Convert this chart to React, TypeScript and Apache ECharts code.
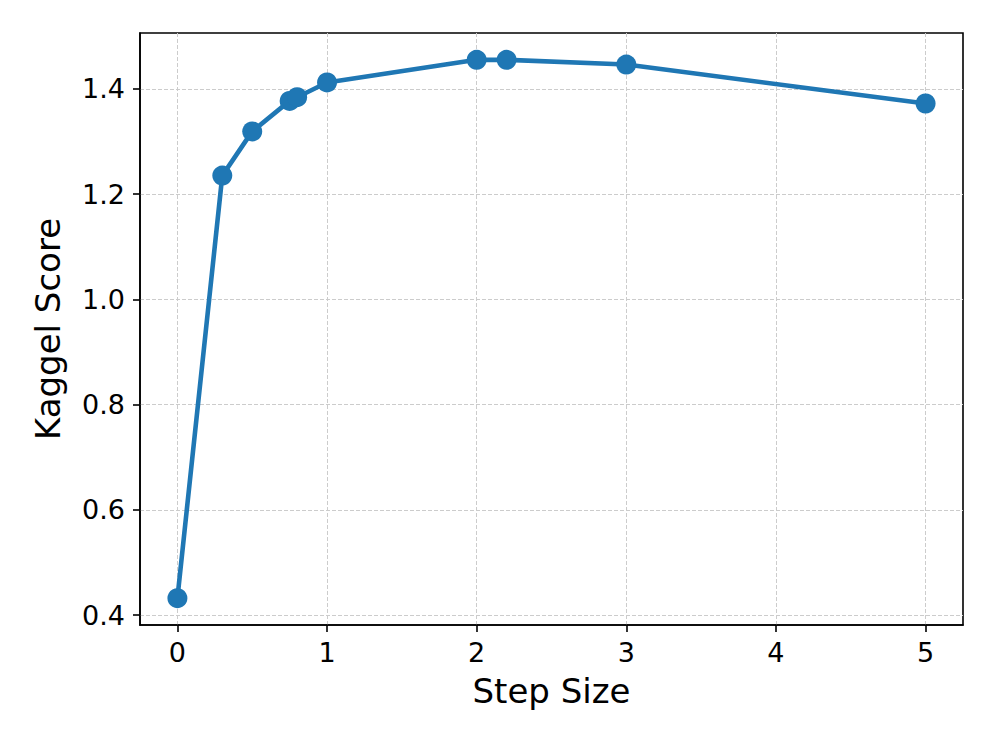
import React, { useEffect, useRef } from "react";
import * as echarts from "echarts";

const stepSizes = [0, 0.3, 0.5, 0.75, 0.8, 1, 2, 2.2, 3, 5];
const kaggleScores = [0.432, 1.235, 1.319, 1.377, 1.384, 1.412, 1.455, 1.455, 1.446, 1.372];
const xTicks = [0, 1, 2, 3, 4, 5];
const yTicks = [0.4, 0.6, 0.8, 1.0, 1.2, 1.4];

const FONT = "DejaVu Sans";

export default function App() {
  const ref = useRef<HTMLDivElement>(null);
  useEffect(() => {
    if (!ref.current) return;
    const chart = echarts.init(ref.current, null, { renderer: "svg" });
    const data = stepSizes.map((x, i) => [x, kaggleScores[i]]);
    chart.setOption({
      animation: false,
      backgroundColor: "#ffffff",
      grid: {
        left: 140,
        top: 33,
        right: 33,
        bottom: 122,
        show: true,
        borderColor: "#000000",
        borderWidth: 1.6,
        backgroundColor: "transparent",
      },
      xAxis: {
        type: "value",
        min: -0.25,
        max: 5.25,
        name: "Step Size",
        nameLocation: "middle",
        nameGap: 49,
        nameTextStyle: { fontFamily: FONT, fontSize: 34, color: "#000" },
        axisLine: { show: true, onZero: false, lineStyle: { color: "#000", width: 1.6 } },
        axisTick: {
          show: true,
          inside: false,
          length: 7,
          lineStyle: { color: "#000", width: 1.6 },
          customValues: xTicks,
        },
        axisLabel: {
          show: true,
          margin: 14,
          fontFamily: FONT,
          fontSize: 27,
          color: "#000",
          customValues: xTicks,
          formatter: (v: number) => String(v),
        },
        splitLine: {
          show: true,
          lineStyle: { color: "#cccccc", width: 1, type: [4, 2] },
        },
      },
      yAxis: {
        type: "value",
        min: 0.381,
        max: 1.506,
        name: "Kaggel Score",
        nameLocation: "middle",
        nameGap: 75,
        nameTextStyle: { fontFamily: FONT, fontSize: 34, color: "#000" },
        axisLine: { show: true, onZero: false, lineStyle: { color: "#000", width: 1.6 } },
        axisTick: {
          show: true,
          inside: false,
          length: 7,
          lineStyle: { color: "#000", width: 1.6 },
          customValues: yTicks,
        },
        axisLabel: {
          show: true,
          margin: 15,
          fontFamily: FONT,
          fontSize: 27,
          color: "#000",
          customValues: yTicks,
          formatter: (v: number) => v.toFixed(1),
        },
        splitLine: {
          show: true,
          lineStyle: { color: "#cccccc", width: 1, type: [4, 2] },
        },
      },
      series: [
        {
          type: "line",
          data,
          symbol: "circle",
          symbolSize: 20,
          itemStyle: { color: "#1f77b4" },
          lineStyle: { color: "#1f77b4", width: 4.6 },
          z: 3,
        },
      ],
    });
    return () => chart.dispose();
  }, []);
  return <div ref={ref} style={{ width: 996, height: 747, position: "absolute", left: 0, top: 0 }} />;
}
